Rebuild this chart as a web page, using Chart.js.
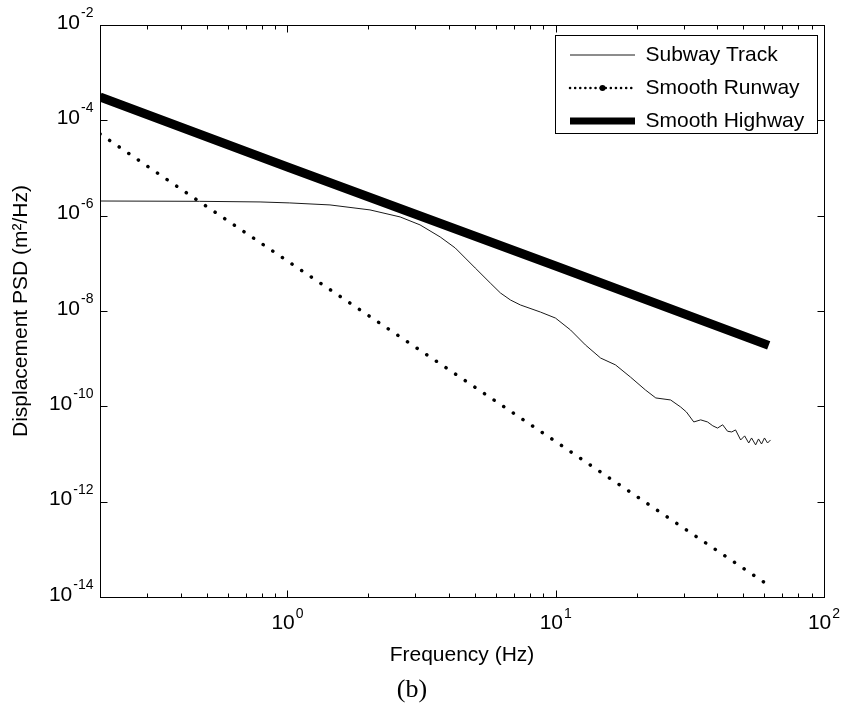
<!DOCTYPE html>
<html>
<head>
<meta charset="utf-8">
<script src="https://cdn.jsdelivr.net/npm/chart.js@4.4.1/dist/chart.umd.min.js"></script>
<style>
  body { margin: 0; background: #fff; }
  #wrap { width: 846px; height: 716px; }
</style>
</head>
<body>
<div id="wrap"><canvas id="psdChart" width="846" height="716"></canvas></div>
<script>
// axis ticks (log scales, MATLAB style)
const xTickValues = [0.2, 0.3, 0.4, 0.5, 0.6, 0.7, 0.8, 0.9, 1, 2, 3, 4, 5, 6, 7, 8, 9, 10,
    20, 30, 40, 50, 60, 70, 80, 90, 100];
const xLabelValues = [1, 10, 100];
const xLabelExps = ['0', '1', '2'];
const yTickValues = [1e-14, 1e-12, 1e-10, 1e-8, 1e-6, 1e-4, 1e-2];
const yLabelExps = ['-14', '-12', '-10', '-8', '-6', '-4', '-2'];

const seriesNames = ['Subway Track', 'Smooth Runway', 'Smooth Highway'];

// Subway Track
const subwayFreq = [0.2, 0.47, 0.79, 1.02, 1.44, 2.03, 2.63, 3.12, 3.71, 4.22,
    4.6, 5.01, 5.7, 6.22, 6.78, 7.38, 8.77, 9.98, 11.35, 12.9,
    14.7, 16.7, 19.0, 21.6, 23.6, 26.8, 29.2, 30.7, 32.7, 34.7,
    36.8, 38.5, 40.1, 41.9, 43.7, 45.3, 46.8,
    48.9, 50.6, 52.4, 53.7, 55.6, 57.0, 58.5, 60.0, 61.6, 63.2];
const subwayPSD = [2.03e-6, 2.0e-6, 1.94e-6, 1.85e-6, 1.68e-6, 1.32e-6, 9.4e-7, 6.4e-7, 3.57e-7, 2.1e-7,
    1.29e-7, 7.98e-8, 3.87e-8, 2.39e-8, 1.7e-8, 1.34e-8, 9.5e-9, 7.1e-9, 4.0e-9, 1.94e-9,
    1.03e-9, 7.4e-10, 4.1e-10, 2.2e-10, 1.5e-10, 1.36e-10, 9.7e-11, 7.6e-11, 4.7e-11, 5.2e-11,
    4.7e-11, 3.9e-11, 3.5e-11, 4.1e-11, 3.0e-11, 2.9e-11, 3.2e-11,
    1.97e-11, 2.4e-11, 1.7e-11, 2.17e-11, 1.55e-11, 2.07e-11, 1.62e-11, 2.17e-11, 1.7e-11, 1.97e-11];

// Smooth Runway
const runwayFreq = [0.2, 0.46, 1, 10, 15.9, 61.8];
const runwayPSD = [5.2e-5, 2.13e-6, 1.12e-7, 1.82e-11, 3.1e-12, 1.8e-14];

// Smooth Highway
const highwayFreq = [0.2, 1, 10, 62.2];
const highwayPSD = [3.1e-4, 1.05e-5, 8.8e-8, 1.9e-9];

const toPoints = (fs, vs) => fs.map((f, i) => ({x: f, y: vs[i]}));

const FONT = "'Liberation Sans', Arial, sans-serif";

// box, inward ticks, 10^n labels and the legend frame
const matlabAxes = {
    id: 'matlabAxes',
    afterLayout(chart) {
        const lg = chart.legend;
        const a = chart.chartArea;
        const pad = lg.options.labels.padding;
        lg.left = a.right - 254 - pad;
        lg.right = lg.left + lg.width;
        lg.top = 32.5;
        lg.bottom = lg.top + lg.height;
    },
    afterDraw(chart) {
        const {ctx, chartArea: a, scales} = chart;
        const xs = scales.x, ys = scales.y;
        const L = Math.round(a.left) + 0.5, R = Math.round(a.right) + 0.5;
        const T = Math.round(a.top) + 0.5, B = Math.round(a.bottom) + 0.5;
        ctx.save();
        ctx.strokeStyle = '#000';
        ctx.lineWidth = 1;
        ctx.strokeRect(L, T, R - L, B - T);

        ctx.beginPath();
        xTickValues.forEach(v => {
            const px = Math.round(xs.getPixelForValue(v)) + 0.5;
            const len = xLabelValues.includes(v) ? 7 : 4;
            ctx.moveTo(px, B); ctx.lineTo(px, B - len);
            ctx.moveTo(px, T); ctx.lineTo(px, T + len);
        });
        yTickValues.forEach(v => {
            const py = Math.round(ys.getPixelForValue(v)) + 0.5;
            ctx.moveTo(L, py); ctx.lineTo(L + 7, py);
            ctx.moveTo(R, py); ctx.lineTo(R - 7, py);
        });
        ctx.stroke();

        ctx.fillStyle = '#000';
        ctx.textBaseline = 'middle';
        ctx.textAlign = 'left';
        const big = '21px ' + FONT, small = '14px ' + FONT;
        const measure = (exp) => {
            ctx.font = big; const w1 = ctx.measureText('10').width;
            ctx.font = small; const w2 = ctx.measureText(exp).width;
            return [w1, w2];
        };
        xLabelValues.forEach((v, i) => {
            const px = xs.getPixelForValue(v);
            const [w1, w2] = measure(xLabelExps[i]);
            const x0 = px - (w1 + w2 + 1) / 2;
            const yc = B + 26;
            ctx.font = big; ctx.fillText('10', x0, yc);
            ctx.font = small; ctx.fillText(xLabelExps[i], x0 + w1 + 1, yc - 9);
        });
        yTickValues.forEach((v, i) => {
            const py = ys.getPixelForValue(v);
            const [w1, w2] = measure(yLabelExps[i]);
            const x0 = L - 7 - (w1 + w2 + 1);
            const yc = py - 2;
            ctx.font = big; ctx.fillText('10', x0, yc);
            ctx.font = small; ctx.fillText(yLabelExps[i], x0 + w1 + 1, yc - 10);
        });

        // legend frame + marker on the runway sample
        const hb = chart.legend.legendHitBoxes;
        if (hb && hb.length) {
            const bl = Math.round(hb[0].left - 15) + 0.5;
            const bt = Math.round(hb[0].top - 9.5) + 0.5;
            const last = hb[hb.length - 1];
            const bb = Math.round(last.top + last.height + 1) + 0.5;
            ctx.strokeRect(bl, bt, 262, bb - bt);
            const r = hb[1];
            ctx.beginPath();
            ctx.arc(r.left + 32.5, r.top + 10.5, 3, 0, Math.PI * 2);
            ctx.fill();
        }
        ctx.restore();
    }
};

const ctx = document.getElementById('psdChart').getContext('2d');
const psdChart = new Chart(ctx, {
    type: 'scatter',
    data: {
        datasets: [
            {
                label: seriesNames[0],
                data: toPoints(subwayFreq, subwayPSD),
                showLine: true,
                borderColor: '#1a1a1a',
                borderWidth: 1,
                pointRadius: 0,
                tension: 0,
            },
            {
                label: seriesNames[1],
                data: toPoints(runwayFreq, runwayPSD),
                showLine: true,
                borderColor: '#000',
                borderWidth: 3.5,
                borderDash: [0.1, 11.5],
                borderCapStyle: 'round',
                pointRadius: 0,
            },
            {
                label: seriesNames[2],
                data: toPoints(highwayFreq, highwayPSD),
                showLine: true,
                borderColor: '#000',
                borderWidth: 9,
                pointRadius: 0,
            },
        ],
    },
    options: {
        responsive: false,
        animation: false,
        layout: { padding: { top: 25, right: 22, left: 0, bottom: 0 } },
        plugins: {
            tooltip: { enabled: false },
            title: {
                display: true,
                position: 'bottom',
                text: '(b)',
                color: '#000',
                font: { family: "'Liberation Serif', 'Times New Roman', serif", size: 26, weight: 'normal' },
                padding: { top: 0, bottom: 10 },
            },
            legend: {
                position: 'chartArea',
                align: 'start',
                labels: {
                    usePointStyle: true,
                    pointStyle: 'line',
                    pointStyleWidth: 65,
                    padding: 12,
                    color: '#000',
                    font: { family: FONT, size: 21 },
                    generateLabels(chart) {
                        const items = Chart.defaults.plugins.legend.labels.generateLabels(chart);
                        items[0].lineWidth = 1;
                        items[1].lineWidth = 2.5;
                        items[1].lineDash = [0.1, 5];
                        items[1].lineCap = 'round';
                        items[2].lineWidth = 7;
                        return items;
                    },
                },
            },
        },
        scales: {
            x: {
                type: 'logarithmic',
                min: 0.2,
                max: 100,
                afterBuildTicks: (s) => { s.ticks = xTickValues.map(v => ({value: v})); },
                afterFit: (s) => { s.height = 77.8; },
                ticks: { display: false },
                grid: { display: false },
                border: { display: false },
                title: {
                    display: true,
                    text: 'Frequency (Hz)',
                    color: '#000',
                    font: { family: FONT, size: 21 },
                    padding: { top: 0, bottom: 7 },
                },
            },
            y: {
                type: 'logarithmic',
                min: 1e-14,
                max: 1e-2,
                afterBuildTicks: (s) => { s.ticks = yTickValues.map(v => ({value: v})); },
                afterFit: (s) => { s.width = 100; },
                ticks: { display: false },
                grid: { display: false },
                border: { display: false },
                title: {
                    display: true,
                    text: 'Displacement PSD (m²/Hz)',
                    color: '#000',
                    font: { family: FONT, size: 21 },
                    padding: { top: 9, bottom: 0 },
                },
            },
        },
    },
    plugins: [matlabAxes],
});
</script>
</body>
</html>
